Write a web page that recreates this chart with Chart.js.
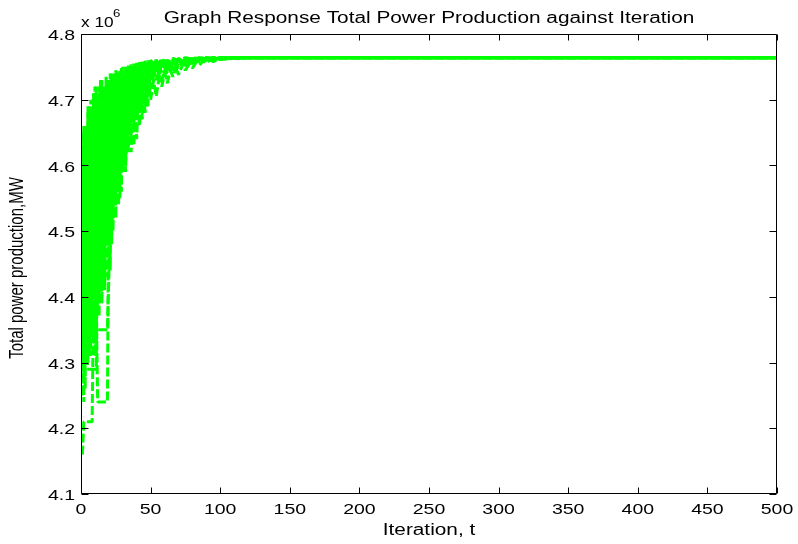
<!DOCTYPE html>
<html><head><meta charset="utf-8">
<script src="https://cdn.jsdelivr.net/npm/chart.js@4/dist/chart.umd.min.js"></script>
<style>html,body{margin:0;padding:0;background:#fff;overflow:hidden}</style>
</head><body>
<canvas id="c" width="798" height="544"></canvas>
<script>
// ---- data (values in units of 10^6 MW) ----
const iterations = [1,2,3,4,5,6,7,8,9,10,11,12,13,14,15,16,17,18,19,20,21,22,23,24,25,26,27,28,29,30,
  32,34,36,38,40,42,44,46,48,50,
  54,58,62,66,70,75,80,85,90,95,100,
  110,120,135,150,500];

const p1 = [4.16,4.21,4.21,4.21,4.21,4.21,4.21,4.21,4.40,4.31,
  4.45,4.38,4.52,4.41,4.60,4.47,4.66,4.55,4.70,4.61,
  4.68,4.57,4.72,4.63,4.70,4.66,4.73,4.62,4.71,4.67,
  4.74,4.69,4.74,4.71,4.75,4.72,4.755,4.73,4.757,4.74,
  4.758,4.75,4.76,4.755,4.761,4.758,4.762,4.76,4.763,4.762,4.763,
  4.764,4.764,4.764,4.764,4.764];
const p2 = [4.30,4.55,4.36,4.60,4.42,4.31,4.50,4.34,4.58,4.40,
  4.38,4.24,4.24,4.24,4.24,4.24,4.24,4.24,4.24,4.60,
  4.52,4.69,4.58,4.72,4.60,4.71,4.64,4.74,4.66,4.72,
  4.62,4.74,4.68,4.75,4.70,4.755,4.70,4.757,4.72,4.758,
  4.74,4.76,4.745,4.761,4.752,4.762,4.756,4.763,4.76,4.763,4.762,
  4.764,4.764,4.764,4.764,4.764];
const p3 = [4.62,4.40,4.66,4.45,4.68,4.38,4.62,4.44,4.66,4.40,
  4.35,4.35,4.35,4.35,4.35,4.35,4.35,4.35,4.35,4.43,
  4.62,4.48,4.70,4.55,4.73,4.58,4.70,4.60,4.74,4.64,
  4.71,4.62,4.75,4.66,4.73,4.68,4.757,4.70,4.745,4.72,
  4.759,4.73,4.755,4.745,4.762,4.752,4.763,4.758,4.764,4.761,4.764,
  4.763,4.764,4.764,4.764,4.764];
const p4 = [4.65,4.28,4.60,4.34,4.69,4.41,4.70,4.36,4.71,4.45,
  4.72,4.39,4.70,4.47,4.73,4.42,4.72,4.50,4.73,4.46,
  4.74,4.53,4.73,4.56,4.745,4.60,4.74,4.58,4.75,4.62,
  4.75,4.65,4.754,4.68,4.756,4.70,4.758,4.72,4.76,4.73,
  4.761,4.742,4.762,4.75,4.763,4.756,4.764,4.761,4.764,4.763,4.764,
  4.764,4.764,4.764,4.764,4.764];
const p5 = [4.25,4.62,4.26,4.66,4.30,4.64,4.31,4.68,4.33,4.66,
  4.36,4.70,4.37,4.68,4.39,4.71,4.41,4.70,4.43,4.72,
  4.44,4.70,4.50,4.72,4.52,4.74,4.54,4.72,4.56,4.74,
  4.59,4.75,4.62,4.74,4.64,4.756,4.67,4.75,4.69,4.759,
  4.705,4.761,4.725,4.762,4.738,4.763,4.748,4.764,4.756,4.764,4.761,
  4.763,4.764,4.764,4.764,4.764];
const p6 = [4.45,4.66,4.33,4.58,4.36,4.69,4.48,4.62,4.38,4.72,
  4.50,4.64,4.42,4.73,4.55,4.66,4.45,4.735,4.58,4.68,
  4.50,4.74,4.62,4.70,4.55,4.745,4.66,4.71,4.60,4.75,
  4.68,4.752,4.70,4.755,4.72,4.757,4.735,4.759,4.745,4.76,
  4.75,4.762,4.756,4.763,4.759,4.764,4.762,4.764,4.763,4.764,4.764,
  4.764,4.764,4.764,4.764,4.764];
const p7 = [4.52,4.24,4.50,4.31,4.29,4.29,4.29,4.29,4.29,4.29,
  4.29,4.55,4.40,4.62,4.46,4.69,4.52,4.66,4.48,4.71,
  4.56,4.67,4.52,4.73,4.62,4.68,4.57,4.745,4.63,4.70,
  4.60,4.73,4.64,4.75,4.67,4.74,4.69,4.755,4.71,4.75,
  4.73,4.758,4.74,4.76,4.748,4.762,4.755,4.763,4.759,4.764,4.762,
  4.764,4.764,4.764,4.764,4.764];
const p8 = [4.35,4.50,4.64,4.39,4.57,4.33,4.66,4.50,4.60,4.35,
  4.68,4.53,4.72,4.44,4.65,4.58,4.42,4.69,4.53,4.73,
  4.64,4.49,4.68,4.74,4.58,4.71,4.63,4.55,4.72,4.59,
  4.73,4.66,4.72,4.63,4.745,4.66,4.74,4.68,4.75,4.70,
  4.755,4.72,4.759,4.735,4.76,4.745,4.762,4.753,4.763,4.758,4.763,
  4.764,4.764,4.764,4.764,4.764];

const xTicks = [0,50,100,150,200,250,300,350,400,450,500];
const yTicks = [4.1,4.2,4.3,4.4,4.5,4.6,4.7,4.8];
const chartTitle = 'Graph Response Total Power Production against Iteration';
const xTitle = 'Iteration, t';
const yTitle = 'Total power production,MW';
const exponentBase = 'x 10';
const exponentPow = '6';

// ---- drawing ----
const series = [p1,p2,p3,p4,p5,p6,p7,p8];
const FONT = '"Liberation Sans", Arial, Helvetica, sans-serif';
const STRETCH = 1.3;

function sText(ctx, text, x, y, size, align, baseline, stretch) {
  ctx.save();
  ctx.font = size + 'px ' + FONT;
  ctx.fillStyle = '#000';
  ctx.textAlign = align;
  ctx.textBaseline = baseline;
  ctx.translate(x, y);
  ctx.scale(stretch, 1);
  ctx.fillText(text, 0, 0);
  ctx.restore();
}

const matlabAxes = {
  id: 'matlabAxes',
  afterDatasetsDraw(chart) {
    const ctx = chart.ctx;
    const a = chart.chartArea;
    const xs = chart.scales.x, ys = chart.scales.y;
    const L = Math.round(a.left) + 0.5, R = Math.round(a.right) - 0.5;
    const T = Math.round(a.top) + 0.5, B = Math.round(a.bottom) - 0.5;
    ctx.save();
    ctx.strokeStyle = '#000';
    ctx.lineWidth = 1;
    ctx.beginPath();
    ctx.rect(L, T, R - L, B - T);
    xTicks.forEach(v => {
      const px = Math.round(xs.getPixelForValue(v)) + 0.5;
      ctx.moveTo(px, B); ctx.lineTo(px, B - 6);
      ctx.moveTo(px, T); ctx.lineTo(px, T + 6);
    });
    yTicks.forEach(v => {
      const py = Math.round(ys.getPixelForValue(v)) + 0.5;
      ctx.moveTo(L, py); ctx.lineTo(L + 7, py);
      ctx.moveTo(R, py); ctx.lineTo(R - 7, py);
    });
    ctx.stroke();
    ctx.restore();

    xTicks.forEach(v => {
      sText(ctx, String(v), xs.getPixelForValue(v), 514, 15, 'center', 'alphabetic', STRETCH);
    });
    yTicks.forEach(v => {
      sText(ctx, v.toFixed(1), 75, ys.getPixelForValue(v) + 2, 15, 'right', 'middle', STRETCH);
    });
    const cx = (a.left + a.right) / 2;
    sText(ctx, chartTitle, cx, 23, 16, 'center', 'alphabetic', STRETCH);
    sText(ctx, xTitle, cx, 535, 16, 'center', 'alphabetic', STRETCH);
    sText(ctx, exponentBase, 81, 27, 15, 'left', 'alphabetic', 1.15);
    sText(ctx, exponentPow, 113, 17, 11, 'left', 'alphabetic', 1.2);
    ctx.save();
    ctx.font = '15px ' + FONT;
    ctx.fillStyle = '#000';
    ctx.textAlign = 'center';
    ctx.textBaseline = 'middle';
    ctx.translate(18, 268);
    ctx.rotate(-Math.PI / 2);
    ctx.scale(1, STRETCH);
    ctx.fillText(yTitle, 0, 0);
    ctx.restore();
  }
};

const datasets = series.map(s => ({
  data: iterations.map((x, i) => ({x: x, y: s[i]})).filter(p => p.y !== undefined),
  borderColor: '#00ff00',
  backgroundColor: '#00ff00',
  borderWidth: 3,
  borderDash: [9, 3],
  borderCapStyle: 'butt',
  borderJoinStyle: 'bevel',
  pointRadius: 0,
  tension: 0,
  fill: false,
  clip: 0
}));

new Chart(document.getElementById('c'), {
  type: 'line',
  data: { datasets },
  options: {
    responsive: false,
    animation: false,
    devicePixelRatio: 1,
    layout: { padding: { left: 0, right: 21, top: 34, bottom: 0 } },
    plugins: { legend: { display: false }, tooltip: { enabled: false }, title: { display: false } },
    scales: {
      x: {
        type: 'linear', min: 0, max: 500,
        grid: { display: false }, border: { display: false },
        ticks: { display: false },
        afterFit: s => { s.height = 50; }
      },
      y: {
        type: 'linear', min: 4.1, max: 4.8,
        grid: { display: false }, border: { display: false },
        ticks: { display: false },
        afterFit: s => { s.width = 81; }
      }
    }
  },
  plugins: [matlabAxes]
});
</script>
</body></html>
